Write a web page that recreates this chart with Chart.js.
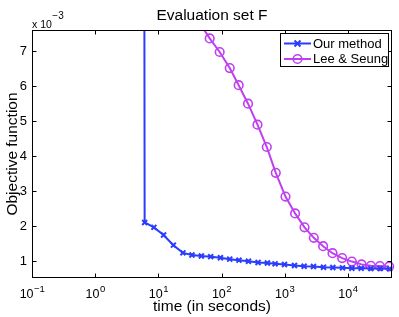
<!DOCTYPE html>
<html><head><meta charset="utf-8">
<script src="https://cdn.jsdelivr.net/npm/chart.js@4.4.0/dist/chart.umd.min.js"></script>
<style>html,body{margin:0;padding:0;background:#fff;}canvas{display:block;}</style>
</head><body>
<canvas id="c" width="399" height="317"></canvas>
<script>
// Values of objective function in units of 1e-3
const ourTime = [5.85, 6.07, 8.51, 12.1, 17.3, 24.5, 34.1, 48.0, 67.4, 96.1, 135, 189, 267, 379, 533, 705, 993, 1430, 2030, 2857, 4118, 5785, 8240, 11570, 16250, 23170, 32500, 45800];
const ourObj  = [25, 2.09, 1.95, 1.73, 1.44, 1.22, 1.16, 1.13, 1.11, 1.08, 1.04, 1.01, 0.98, 0.945, 0.93, 0.906, 0.886, 0.857, 0.837, 0.829, 0.809, 0.80, 0.791, 0.78, 0.78, 0.77, 0.77, 0.763];
const leeTime = [23, 33, 46, 65, 93.5, 135, 187, 263, 371, 521, 723, 1030, 1462, 2061, 2893, 4063, 5724, 8130, 11570, 16480, 23140, 32130, 45080];
const leeObj  = [8.6, 8.2, 7.78, 7.36, 6.97, 6.51, 6.02, 5.49, 4.89, 4.25, 3.51, 2.83, 2.35, 1.95, 1.65, 1.41, 1.21, 1.07, 0.97, 0.89, 0.85, 0.84, 0.83];
const xTickVals = [0.1, 1, 10, 100, 1000, 10000];
const xTickExps = ['\u22121', '0', '1', '2', '3', '4'];
const yTickVals = [1, 2, 3, 4, 5, 6, 7];
const seriesNames = ['Our method', 'Lee & Seung'];
const titleText = 'Evaluation set F';
const xTitle = 'time (in seconds)';
const yTitle = 'Objective function';

const BLUE = '#2b3dfc', PURPLE = '#bf40f0';
const FONT = '"Liberation Sans", Arial, Helvetica, sans-serif';

function pts(xs, ys){ return xs.map((x,i)=>({x:x, y:ys[i]})); }

function drawPow(ctx, base, exp, cx, by, size, es, rise){
  ctx.font = size + 'px ' + FONT;
  const wb = ctx.measureText(base).width;
  ctx.font = es + 'px ' + FONT;
  const we = ctx.measureText(exp).width;
  const x0 = cx - (wb+we)/2;
  ctx.textAlign = 'left'; ctx.textBaseline = 'alphabetic';
  ctx.font = size + 'px ' + FONT;
  ctx.fillText(base, x0, by);
  ctx.font = es + 'px ' + FONT;
  ctx.fillText(exp, x0 + wb + 0.5, by - rise);
}

const deco = {
  id: 'deco',
  beforeDraw(chart){
    const ctx = chart.ctx;
    ctx.save(); ctx.fillStyle = '#fff'; ctx.fillRect(0,0,chart.width,chart.height); ctx.restore();
  },
  afterDraw(chart){
    const ctx = chart.ctx, a = chart.chartArea;
    const xs = chart.scales.x, ys = chart.scales.y;
    const L = Math.round(a.left)+0.5, R = Math.round(a.right)-0.5, T = Math.round(a.top)+0.5, B = Math.round(a.bottom)-0.5;
    ctx.save();
    ctx.strokeStyle = '#000'; ctx.lineWidth = 1;
    ctx.strokeRect(L, T, R-L, B-T);
    ctx.beginPath();
    const tl = 4;
    xTickVals.forEach(v=>{
      const px = Math.round(xs.getPixelForValue(v))+0.5;
      ctx.moveTo(px, B); ctx.lineTo(px, B-tl);
      ctx.moveTo(px, T); ctx.lineTo(px, T+tl);
    });
    yTickVals.forEach(v=>{
      const py = Math.round(ys.getPixelForValue(v))+0.5;
      ctx.moveTo(L, py); ctx.lineTo(L+tl, py);
      ctx.moveTo(R, py); ctx.lineTo(R-tl, py);
    });
    ctx.stroke();
    ctx.fillStyle = '#000';
    // x tick labels
    xTickVals.forEach((v,i)=>{
      const px = xs.getPixelForValue(v);
      drawPow(ctx, '10', xTickExps[i], px, 297.5, 12.5, 9.5, 5.5);
    });
    // y tick labels
    ctx.font = '13px ' + FONT; ctx.textAlign = 'right'; ctx.textBaseline = 'middle';
    yTickVals.forEach(v=>{
      ctx.fillText(String(v), a.left - 5, ys.getPixelForValue(v) + 0.5);
    });
    // exponent label
    ctx.font = '10.5px ' + FONT; ctx.textAlign = 'left'; ctx.textBaseline = 'alphabetic';
    const wx = ctx.measureText('x 10').width;
    ctx.fillText('x 10', a.left, 27.5);
    ctx.font = '10px ' + FONT;
    ctx.fillText('\u22123', a.left + wx + 0.5, 18.5);
    // title
    const cx = (a.left + a.right)/2;
    ctx.font = '15.5px ' + FONT; ctx.textAlign = 'center'; ctx.textBaseline = 'alphabetic';
    ctx.fillText(titleText, cx, 20);
    ctx.fillText(xTitle, cx, 310.5);
    ctx.save();
    ctx.translate(16.5, (a.top + a.bottom)/2);
    ctx.rotate(-Math.PI/2);
    ctx.fillText(yTitle, 0, 0);
    ctx.restore();
    // legend
    const lx = 280.5, ly = 33.5, lw = 108, lh = 33;
    ctx.fillStyle = '#fff'; ctx.fillRect(lx, ly, lw, lh);
    ctx.strokeStyle = '#000'; ctx.lineWidth = 1; ctx.strokeRect(lx, ly, lw, lh);
    const rows = [{y: 43.5, c: BLUE, m: 'x'}, {y: 59, c: PURPLE, m: 'o'}];
    rows.forEach((r,i)=>{
      ctx.strokeStyle = r.c; ctx.lineWidth = 2;
      ctx.beginPath(); ctx.moveTo(284, r.y); ctx.lineTo(311, r.y); ctx.stroke();
      const mx = 297.5;
      if (r.m === 'x') {
        ctx.beginPath();
        ctx.moveTo(mx-3, r.y-3); ctx.lineTo(mx+3, r.y+3);
        ctx.moveTo(mx-3, r.y+3); ctx.lineTo(mx+3, r.y-3);
        ctx.stroke();
      } else {
        ctx.lineWidth = 1.6;
        ctx.beginPath(); ctx.arc(mx, r.y, 4.3, 0, Math.PI*2); ctx.stroke();
      }
      ctx.fillStyle = '#000'; ctx.font = '13px ' + FONT; ctx.textAlign = 'left'; ctx.textBaseline = 'middle';
      ctx.fillText(seriesNames[i], 313, r.y + 0.5);
    });
    ctx.restore();
  }
};

new Chart(document.getElementById('c'), {
  type: 'line',
  data: {
    datasets: [
      { label: seriesNames[0], data: pts(ourTime, ourObj), borderColor: BLUE, backgroundColor: BLUE,
        borderWidth: 2, pointStyle: 'crossRot', pointRadius: 3.5, pointBorderWidth: 2, pointBorderColor: BLUE,
        tension: 0, clip: {left: 0, top: 0, right: 8, bottom: 8} },
      { label: seriesNames[1], data: pts(leeTime, leeObj), borderColor: PURPLE, backgroundColor: 'rgba(0,0,0,0)',
        borderWidth: 2, pointStyle: 'circle', pointRadius: 4.3, pointBorderWidth: 1.6, pointBorderColor: PURPLE,
        tension: 0, clip: {left: 0, top: 0, right: 8, bottom: 8} }
    ]
  },
  options: {
    responsive: false, animation: false, devicePixelRatio: 1,
    layout: { padding: { left: 0, right: 7, top: 30, bottom: 0 } },
    plugins: { legend: { display: false }, tooltip: { enabled: false }, title: { display: false } },
    scales: {
      x: { type: 'logarithmic', min: 0.1, max: 50000,
           grid: { display: false }, border: { display: false }, ticks: { display: false },
           afterFit(s){ s.height = 39; } },
      y: { type: 'linear', min: 0.5, max: 7.6,
           grid: { display: false }, border: { display: false }, ticks: { display: false },
           afterFit(s){ s.width = 32; } }
    }
  },
  plugins: [deco]
});
</script>
</body></html>
